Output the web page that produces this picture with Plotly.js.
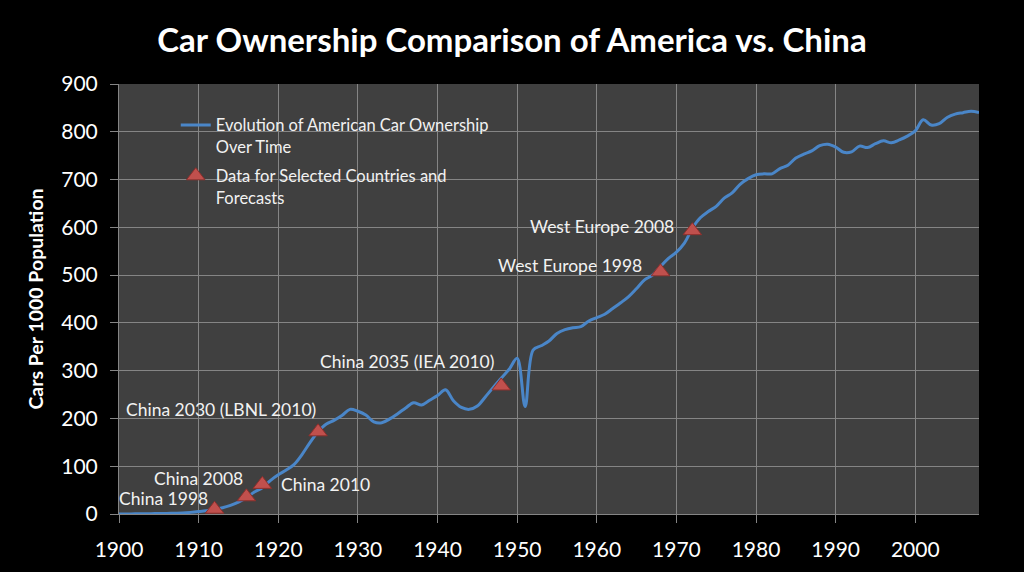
<!DOCTYPE html>
<html>
<head>
<meta charset="utf-8">
<script src="https://cdn.plot.ly/plotly-3.0.1.min.js"></script>
<style>html,body{margin:0;padding:0;background:#000;}#chart{width:1024px;height:572px;}</style>
</head>
<body>
<div id="chart"></div>
<script>
const years = [];
for (let y = 1900; y <= 2008; y++) years.push(y);
const usCars = [
  0, 0.2, 0.3, 0.4, 0.7, 1, 1.3, 1.7, 2.2, 3.4,
  5, 7, 10, 13, 18, 25, 34, 46, 55, 70,
  82, 92, 104, 125, 150, 172, 188, 196, 206, 219,
  215, 207, 193, 191, 199, 210, 222, 233, 228, 238,
  248, 260, 237, 223, 219, 226, 245, 265, 284, 303,
  326, 225, 343, 352, 362, 378, 386, 390, 392, 404,
  411, 418, 430, 442, 455, 472, 490, 500, 518, 535,
  548, 567, 598, 620, 633, 644, 661, 672, 690, 702,
  710, 712, 712, 723, 730, 745, 753, 760, 771, 774,
  768, 757, 758, 770, 767, 775, 781, 777, 783, 791,
  802, 825, 814, 817, 830, 837, 840, 843, 840
];
const pointYears = [1912, 1916, 1918, 1925, 1948, 1968, 1972];
const pointValues = [10, 36, 62, 172, 268, 507, 593];
const pointLabels = ["China 1998", "China 2008", "China 2010", "China 2030 (LBNL 2010)",
  "China 2035 (IEA 2010)", "West Europe 1998", "West Europe 2008"];
const xTicks = [1900, 1910, 1920, 1930, 1940, 1950, 1960, 1970, 1980, 1990, 2000];
const yTicks = [0, 100, 200, 300, 400, 500, 600, 700, 800, 900];

// label placement relative to each marker (style only)
const labelStyle = [
  {xanchor: "right", xshift: -5, yshift: 11},
  {xanchor: "right", xshift: -1, yshift: 18},
  {xanchor: "left", xshift: 17, yshift: 0},
  {xanchor: "right", xshift: 0, yshift: 22},
  {xanchor: "right", xshift: -5, yshift: 24},
  {xanchor: "right", xshift: -16, yshift: 6},
  {xanchor: "right", xshift: -16, yshift: 4}
];

const FONT = "Lato, 'Open Sans', sans-serif";
const traces = [
  {
    x: years, y: usCars, type: "scatter", mode: "lines",
    name: "Evolution of American Car Ownership<br>Over Time",
    line: {color: "#4a86c8", width: 3, shape: "spline", smoothing: 1},
    legendgroup: "a", hoverinfo: "x+y"
  },
  {
    x: pointYears, y: pointValues, type: "scatter", mode: "markers",
    name: "Data for Selected Countries and<br>Forecasts",
    marker: {symbol: "triangle-up", size: 16, color: "#c0504d", line: {color: "#8e2f2c", width: 1}},
    legendgroup: "b", hoverinfo: "x+y"
  }
];

const annotations = pointLabels.map((t, i) => ({
  x: pointYears[i], y: pointValues[i], xref: "x", yref: "y",
  text: t, showarrow: false,
  xanchor: labelStyle[i].xanchor, yanchor: "middle",
  xshift: labelStyle[i].xshift, yshift: labelStyle[i].yshift,
  font: {family: FONT, size: 17.5, color: "#f2f2f2"}
}));

const layout = {
  width: 1024, height: 572,
  paper_bgcolor: "#000000", plot_bgcolor: "#404040",
  margin: {l: 119, r: 45, t: 84, b: 58},
  title: {
    text: "<b>Car Ownership Comparison of America vs. China</b>",
    font: {family: FONT, size: 33, color: "#ffffff"},
    x: 0.5, xanchor: "center", xref: "container",
    y: 0.93, yanchor: "middle", yref: "container"
  },
  xaxis: {
    range: [1900, 2008], tickvals: xTicks, ticktext: xTicks.map(String),
    showgrid: true, gridcolor: "#858585", gridwidth: 1,
    showline: true, linecolor: "#858585", linewidth: 1,
    ticks: "outside", ticklen: 8, tickcolor: "#858585",
    ticklabelstandoff: 9,
    tickfont: {family: FONT, size: 21, color: "#ffffff"},
    zeroline: false, fixedrange: true
  },
  yaxis: {
    range: [0, 900], tickvals: yTicks,
    showgrid: true, gridcolor: "#858585", gridwidth: 1,
    showline: true, linecolor: "#858585", linewidth: 1,
    ticks: "outside", ticklen: 8, tickcolor: "#858585",
    ticklabelstandoff: 8,
    tickfont: {family: FONT, size: 21, color: "#ffffff"},
    title: {text: "<b>Cars Per 1000 Population</b>", font: {family: FONT, size: 19.5, color: "#ffffff"}, standoff: 12},
    zeroline: false, fixedrange: true
  },
  showlegend: true,
  legend: {
    x: 0.066, y: 0.945, xanchor: "left", yanchor: "top",
    bgcolor: "rgba(0,0,0,0)", borderwidth: 0,
    font: {family: FONT, size: 16.5, color: "#f2f2f2"},
    valign: "top", tracegroupgap: 5, itemwidth: 30
  },
  annotations: annotations
};

Plotly.newPlot("chart", traces, layout, {displayModeBar: false, staticPlot: true});
</script>
</body>
</html>
